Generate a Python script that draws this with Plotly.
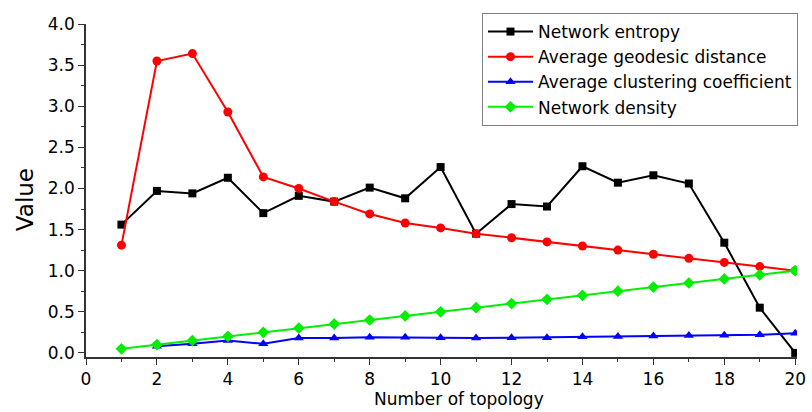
import plotly.graph_objects as go

topology = list(range(1, 21))
network_entropy = [1.56, 1.97, 1.94, 2.13, 1.70, 1.91, 1.84, 2.01, 1.88, 2.26,
                   1.45, 1.81, 1.78, 2.27, 2.07, 2.16, 2.06, 1.34, 0.55, 0.00]
avg_geodesic = [1.31, 3.55, 3.64, 2.93, 2.14, 2.00, 1.84, 1.69, 1.58, 1.52,
                1.45, 1.40, 1.35, 1.30, 1.25, 1.20, 1.15, 1.10, 1.05, 1.00]
topology_cc = list(range(2, 21))
avg_clustering = [0.08, 0.11, 0.15, 0.11, 0.18, 0.18, 0.19, 0.19, 0.185, 0.18,
                  0.185, 0.185, 0.195, 0.20, 0.205, 0.21, 0.215, 0.22, 0.24]
network_density = [0.05, 0.10, 0.15, 0.20, 0.25, 0.30, 0.35, 0.40, 0.45, 0.50,
                   0.55, 0.60, 0.65, 0.70, 0.75, 0.80, 0.85, 0.90, 0.95, 1.00]

FONT = "DejaVu Sans, Liberation Sans, Arial, sans-serif"
AXC = "#333333"

fig = go.Figure()
fig.add_trace(go.Scatter(x=topology, y=network_entropy, mode="lines+markers",
                         name="Network entropy",
                         line=dict(color="black", width=2),
                         marker=dict(symbol="square", size=8, color="black")))
fig.add_trace(go.Scatter(x=topology, y=avg_geodesic, mode="lines+markers",
                         name="Average geodesic distance",
                         line=dict(color="#ff0000", width=2),
                         marker=dict(symbol="circle", size=9, color="#ff0000")))
fig.add_trace(go.Scatter(x=topology_cc, y=avg_clustering, mode="lines+markers",
                         name="Average clustering coefficient",
                         line=dict(color="#0000ff", width=2),
                         marker=dict(symbol="triangle-up", size=9, color="#0000ff")))
fig.add_trace(go.Scatter(x=topology, y=network_density, mode="lines+markers",
                         name="Network density",
                         line=dict(color="#00ee00", width=2),
                         marker=dict(symbol="diamond", size=9, color="#00ee00")))

fig.update_layout(
    width=812, height=412,
    margin=dict(l=86, r=15, t=24, b=55, autoexpand=False),
    paper_bgcolor="white", plot_bgcolor="white",
    font=dict(family=FONT, size=17, color="black"),
    showlegend=True,
    legend=dict(x=1.0014, y=1.033, xanchor="right", yanchor="top",
                bordercolor="#808080", borderwidth=1, bgcolor="white",
                font=dict(size=17, family=FONT), tracegroupgap=0,
                itemwidth=45),
    annotations=[
        dict(text="Number of topology", xref="paper", yref="paper",
             x=0.5246, y=0, xanchor="center", yanchor="middle", yshift=-42,
             showarrow=False, font=dict(size=17, family=FONT)),
        dict(text="Value", xref="paper", yref="paper",
             x=0, y=0.471, xanchor="center", yanchor="middle", xshift=-61,
             textangle=-90, showarrow=False, font=dict(size=23, family=FONT)),
    ],
)
fig.update_xaxes(range=[0, 20.05], tickmode="linear", tick0=0, dtick=2,
                 automargin=False,
                 ticks="outside", ticklen=6, tickwidth=1.2, tickcolor=AXC,
                 showline=True, linecolor=AXC, linewidth=1.5,
                 showgrid=False, zeroline=False,
                 minor=dict(ticks="outside", ticklen=3, dtick=1, tick0=0, tickcolor=AXC),
                 tickfont=dict(size=17))
fig.update_yaxes(range=[-0.05, 4.0], tickmode="linear", tick0=0, dtick=0.5,
                 tickformat=".1f", automargin=False,
                 ticks="outside", ticklen=6, tickwidth=1.2, tickcolor=AXC,
                 showline=True, linecolor=AXC, linewidth=1.5,
                 showgrid=False, zeroline=False,
                 minor=dict(ticks="outside", ticklen=3, dtick=0.25, tick0=0, tickcolor=AXC),
                 tickfont=dict(size=17))

# remove the default 8px page margin so the 812x412 figure fills the window
fig.write_html("out.html",
               config={"displayModeBar": False},
               post_script="document.body.style.margin='0';"
                           "document.body.style.overflow='hidden';")
